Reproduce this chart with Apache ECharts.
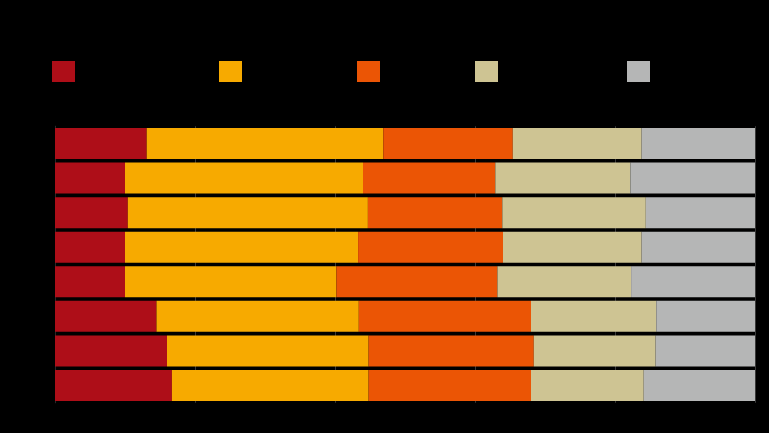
<!DOCTYPE html>
<html>
<head>
<meta charset="utf-8">
<script src="https://cdn.jsdelivr.net/npm/echarts@6/dist/echarts.min.js"></script>
<style>
html,body{margin:0;padding:0;background:#000;}
#chart{width:769px;height:433px;}
</style>
</head>
<body>
<div id="chart"></div>
<script>
const categories = ['Group 1','Group 2','Group 3','Group 4','Group 5','Group 6','Group 7','Group 8'];
const seriesNames = ['Category A','Category B','Category C','Category D','Category E'];
const valuesA = [13.1, 10.0, 10.4, 10.0, 10.0, 14.5, 16.0, 16.7];
const valuesB = [33.8, 34.0, 34.3, 33.3, 30.2, 28.9, 28.8, 28.1];
const valuesC = [18.5, 18.9, 19.2, 20.7, 23.0, 24.6, 23.6, 23.2];
const valuesD = [18.4, 19.3, 20.5, 19.8, 19.1, 17.9, 17.4, 16.1];
const valuesE = [16.2, 17.8, 15.6, 16.2, 17.7, 14.1, 14.2, 15.9];
const colors = ['#AE0E18','#F7AA00','#EB5505','#CEC493','#B5B6B6'];
const xTicks = [0, 20, 40, 60, 80, 100];

const allValues = [valuesA, valuesB, valuesC, valuesD, valuesE];
const legendLefts = [52, 219, 357, 475, 627];

const chart = echarts.init(document.getElementById('chart'), null, {renderer: 'canvas'});
chart.setOption({
  backgroundColor: '#000000',
  animation: false,
  color: colors,
  legend: seriesNames.map((n, i) => ({
    data: [n],
    left: legendLefts[i],
    top: 61,
    padding: 0,
    itemWidth: 23,
    itemHeight: 21,
    itemGap: 10,
    icon: 'rect',
    textStyle: {color: '#000000', fontSize: 13}
  })),
  grid: {left: 55, right: 14, top: 126.2, bottom: 30.2, containLabel: false, outerBoundsMode: 'none'},
  xAxis: {
    type: 'value',
    min: xTicks[0],
    max: xTicks[xTicks.length - 1],
    interval: 20,
    axisLabel: {color: '#000000', formatter: '{value}%'},
    axisLine: {show: false},
    axisTick: {show: false},
    splitLine: {show: true, lineStyle: {color: '#3a3a3a', width: 1}}
  },
  yAxis: {
    type: 'category',
    data: categories,
    inverse: true,
    axisLabel: {color: '#000000'},
    axisLine: {show: true, lineStyle: {color: '#2a2a2a'}},
    axisTick: {show: false}
  },
  series: allValues.map((vals, i) => ({
    name: seriesNames[i],
    type: 'bar',
    stack: 'total',
    barCategoryGap: '10.3%',
    data: vals,
    itemStyle: {color: colors[i]}
  }))
});
</script>
</body>
</html>
